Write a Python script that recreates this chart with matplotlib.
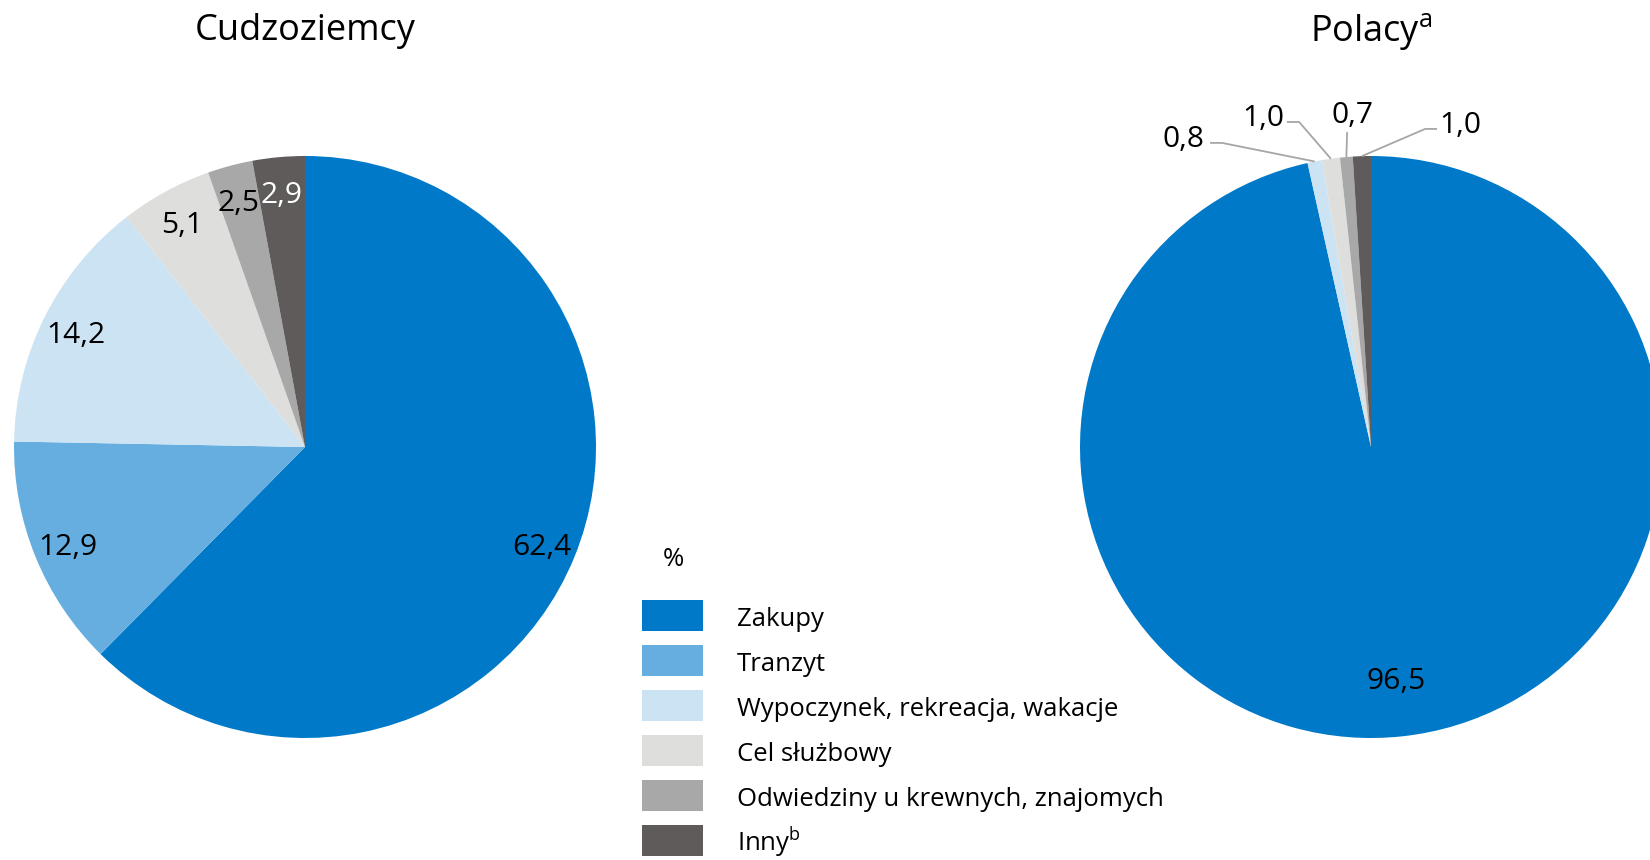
import numpy as np
import matplotlib
matplotlib.use("Agg")
import matplotlib.pyplot as plt
from matplotlib.patches import Rectangle

plt.rcParams['font.family'] = ['Open Sans', 'DejaVu Sans']

categories  = ["Zakupy", "Tranzyt", "Wypoczynek, rekreacja, wakacje",
               "Cel służbowy", "Odwiedziny u krewnych, znajomych", "Inny$^{\\mathregular{b}}$"]
colors      = ["#0079C8", "#66AEDF", "#CCE3F3", "#DEDEDD", "#A8A8A8", "#5F5B5B"]
foreigners  = [62.4, 12.9, 14.2, 5.1, 2.5, 2.9]
poles       = [96.5, 0.0, 0.8, 1.0, 0.7, 1.0]

W, H = 1650, 860
R = 291          # pie radius in px
CY = 447         # pie centre y (px from top)
LBL = 21.5       # value label size

def fmt(v):
    return ("%.1f" % v).replace(".", ",")

def pie_axes(cx):
    return fig.add_axes([(cx - R) / W, (H - CY - R) / H, 2 * R / W, 2 * R / H])

fig = plt.figure(figsize=(16.5, 8.6), dpi=100)

# --- Cudzoziemcy
ax1 = pie_axes(305)
wedges, texts = ax1.pie(foreigners, colors=colors, startangle=90, counterclock=False,
                        labels=[fmt(v) for v in foreigners], labeldistance=0.88,
                        textprops=dict(fontsize=LBL, ha="center", va="center_baseline"),
                        wedgeprops=dict(linewidth=0))
texts[-1].set_color("white")
ax1.set_xlim(-1, 1); ax1.set_ylim(-1, 1)
ax1.set_aspect("equal")

# --- Polacy
ax2 = pie_axes(1371)
labels2 = [fmt(poles[0])] + [""] * (len(poles) - 1)
wedges2, texts2 = ax2.pie(poles, colors=colors, startangle=90, counterclock=False,
                          labels=labels2, labeldistance=0.80,
                          textprops=dict(fontsize=LBL, ha="center", va="center_baseline"),
                          wedgeprops=dict(linewidth=0))
ax2.set_xlim(-1, 1); ax2.set_ylim(-1, 1)
ax2.set_aspect("equal")

# leader lines for small slices: (slice index, elbow, line end near text, text pos)
callouts = [
    (2, (-0.512, 1.045), (-0.553, 1.045), (-0.646, 1.068)),
    (3, (-0.247, 1.117), (-0.289, 1.117), (-0.371, 1.140)),
    (4, (-0.082, 1.082), (-0.082, 1.082), (-0.065, 1.152)),
    (5, (0.186, 1.093), (0.227, 1.093), (0.306, 1.118)),
]
for idx, elbow, end, tpos in callouts:
    w = wedges2[idx]
    ang = np.deg2rad((w.theta1 + w.theta2) / 2)
    px, py = np.cos(ang), np.sin(ang)
    ax2.plot([px, elbow[0], end[0]], [py, elbow[1], end[1]], color="#A6A6A6",
             lw=1.3, clip_on=False, solid_capstyle="butt")
    ax2.text(tpos[0], tpos[1], fmt(poles[idx]), fontsize=LBL, ha="center", va="center_baseline")

# titles
fig.text(305 / W, 1 - 31 / H, "Cudzoziemcy", fontsize=26, ha="center", va="center")
fig.text(1371 / W, 1 - 31 / H, "Polacy$^{\\mathregular{a}}$", fontsize=26, ha="center", va="center")

# legend
fig.text(673 / W, 1 - 560 / H, "%", fontsize=18.5, ha="center", va="center")
for i, (lab, col) in enumerate(zip(categories, colors)):
    top = 600 + i * 45
    fig.add_artist(Rectangle((642 / W, 1 - (top + 31) / H), 61 / W, 31 / H,
                             transform=fig.transFigure, color=col, lw=0))
    fig.text(737 / W, 1 - (top + 26) / H, lab, fontsize=18.5, ha="left", va="baseline")

fig.savefig("out.png", dpi=100)
